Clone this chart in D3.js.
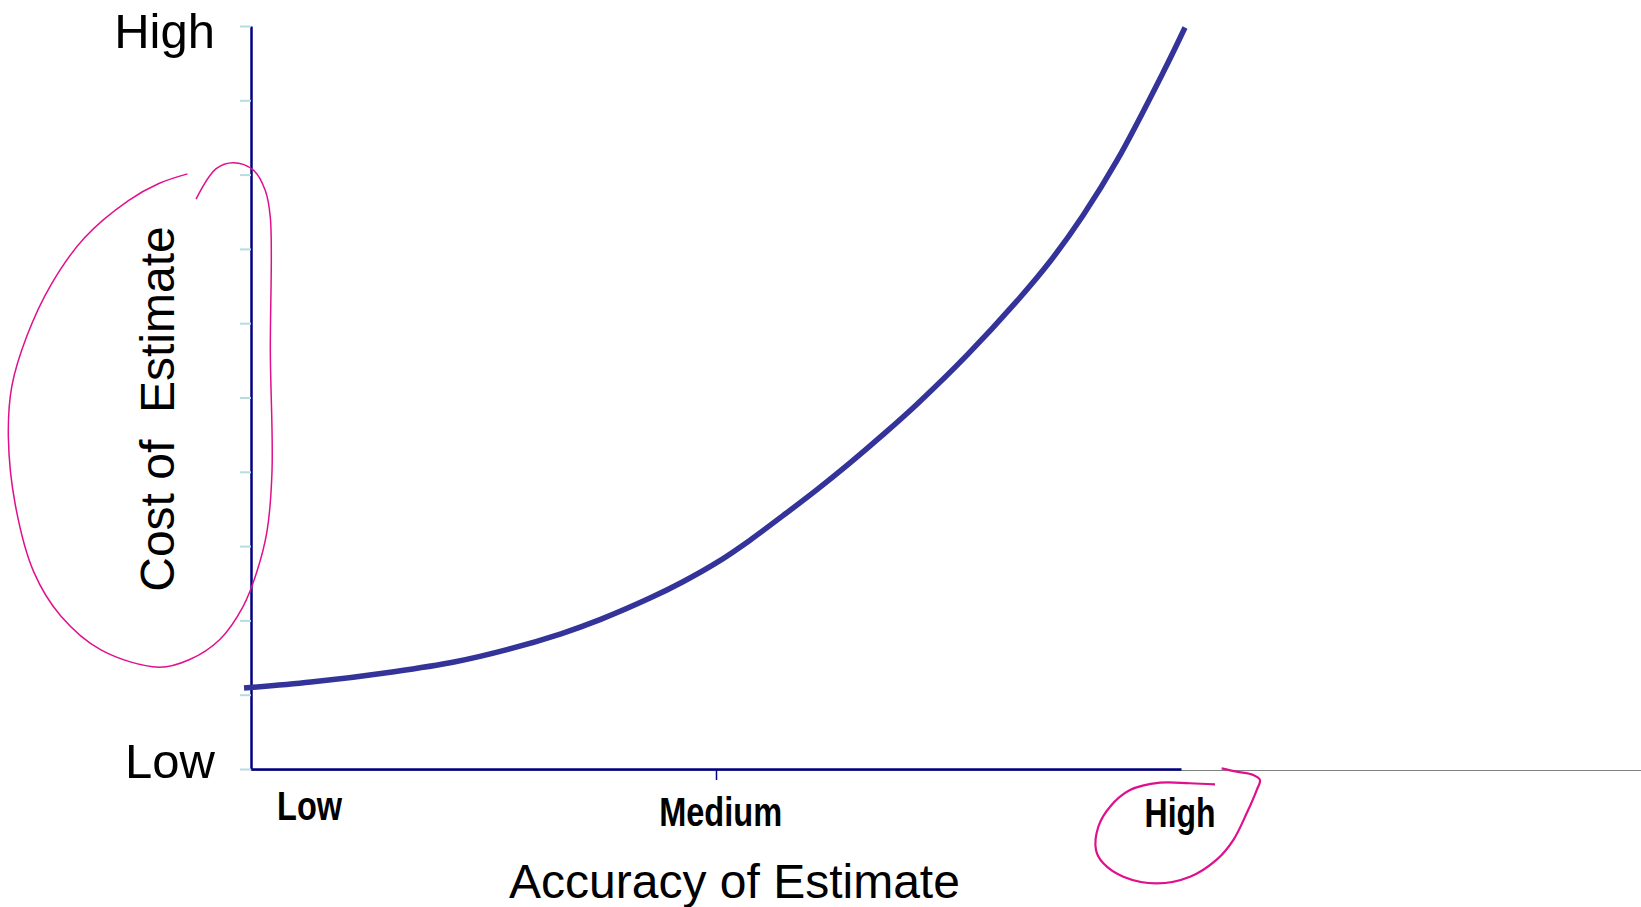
<!DOCTYPE html>
<html>
<head>
<meta charset="utf-8">
<script src="https://cdn.jsdelivr.net/npm/d3@7/dist/d3.min.js"></script>
<style>
  html, body { margin: 0; padding: 0; background: #ffffff; }
  svg { display: block; }
  text { font-family: "Liberation Sans", Arial, sans-serif; fill: #000; }
</style>
</head>
<body>
<svg id="chart" width="1641" height="907"></svg>
<script>
// ---- data ----
// accuracy of estimate (0 = Low, 100 = High)
const accuracy = [-0.75, 6.45, 15.38, 21.83, 27.63, 33.33, 37.53, 42.90, 46.45, 50.11, 53.66, 57.20, 60.86, 64.41, 67.96, 71.61, 76.99, 82.37, 85.91, 89.46, 93.12, 98.06, 100.43];
// cost of estimate (0 = Low, 10 = High)
const cost = [1.09, 1.17, 1.31, 1.44, 1.61, 1.82, 2.01, 2.30, 2.52, 2.78, 3.08, 3.41, 3.76, 4.12, 4.50, 4.91, 5.57, 6.30, 6.83, 7.45, 8.19, 9.37, 9.98];

const xCategories = ["Low", "Medium", "High"];
const xCategoryPos = [6.3, 50.5, 99.9];
const xTickValues = [50];
const yLabels = ["Low", "High"];
const yLabelValues = [0, 10];
const yTickValues = [0, 1, 2, 3, 4, 5, 6, 7, 8, 9, 10];
const xTitle = "Accuracy of Estimate";
const yTitle = "Cost of  Estimate";

// hand-drawn annotation loops (in data units)
const costLoopX = [-6.83, -9.91, -13.18, -17.90, -21.54, -24.09, -25.72, -26.09, -25.35, -23.35, -20.45, -16.09, -9.91, -6.65, -3.38, -0.84, 0.62, 1.71, 2.26, 2.08, 2.08, 1.53, 0.26, -1.92, -3.74, -5.91];
const costLoopY = [8.01, 7.88, 7.65, 7.15, 6.51, 5.83, 5.15, 4.47, 3.56, 2.65, 2.06, 1.60, 1.37, 1.47, 1.74, 2.19, 2.65, 3.19, 4.01, 5.60, 7.42, 7.79, 8.06, 8.16, 8.08, 7.67];
const highLoopX = [103.66, 100.97, 97.74, 94.52, 92.37, 91.11, 90.86, 91.65, 93.80, 97.39, 100.97, 103.84, 105.62, 107.06, 108.14, 108.49, 107.77, 105.99, 104.37];
const highLoopY = [-0.206, -0.192, -0.184, -0.283, -0.507, -0.777, -1.09, -1.27, -1.45, -1.54, -1.45, -1.22, -0.956, -0.596, -0.283, -0.148, -0.081, -0.036, 0.009];

// ---- chart ----
const svg = d3.select("#chart");
const x = d3.scaleLinear().domain([0, 100]).range([251, 1181]);
const y = d3.scaleLinear().domain([0, 10]).range([769, 26]);

// faint grey baseline extending to the right
svg.append("line")
  .attr("x1", x(0)).attr("x2", 1641)
  .attr("y1", y(0) + 1.5).attr("y2", y(0) + 1.5)
  .attr("stroke", "#808080").attr("stroke-width", 1);

// y axis
const yAxis = svg.append("g")
  .attr("transform", `translate(${x(0)},0)`)
  .call(d3.axisLeft(y).tickValues(yTickValues).tickSize(11).tickSizeOuter(0).tickFormat(""));
yAxis.select(".domain").attr("stroke", "#000080").attr("stroke-width", 2.5);
yAxis.selectAll(".tick line").attr("stroke", "#b4dde2").attr("stroke-width", 2);

// x axis
const xAxis = svg.append("g")
  .attr("transform", `translate(0,${y(0)})`)
  .call(d3.axisBottom(x).tickValues(xTickValues).tickSize(11).tickSizeOuter(0).tickFormat(""));
xAxis.select(".domain").attr("stroke", "#000080").attr("stroke-width", 2.5);
xAxis.selectAll(".tick line").attr("stroke", "#000080").attr("stroke-width", 1.5);

// y labels
const yLabelDy = [9, 22];
svg.selectAll("text.ylab").data(yLabels).enter().append("text")
  .attr("class", "ylab")
  .attr("x", x(0) - 36)
  .attr("y", (d, i) => y(yLabelValues[i]) + yLabelDy[i])
  .attr("text-anchor", "end")
  .style("font-size", "49px")
  .text(d => d);

// x category labels
const xLabW = [65, 123, 71];
const xLabDy = [51, 57, 58];
svg.selectAll("text.xlab").data(xCategories).enter().append("text")
  .attr("class", "xlab")
  .attr("x", (d, i) => x(xCategoryPos[i]))
  .attr("y", (d, i) => y(0) + xLabDy[i])
  .attr("text-anchor", "middle")
  .attr("textLength", (d, i) => xLabW[i])
  .attr("lengthAdjust", "spacingAndGlyphs")
  .style("font-family", "'Liberation Sans Narrow', 'Liberation Sans', Arial, sans-serif")
  .style("font-weight", "bold")
  .style("font-size", "40px")
  .text(d => d);

// axis titles
svg.append("text")
  .attr("x", 734.5).attr("y", 898)
  .attr("text-anchor", "middle")
  .style("font-size", "48px")
  .text(xTitle);

svg.append("text")
  .attr("transform", "translate(174,409) rotate(-90)")
  .attr("text-anchor", "middle")
  .style("font-size", "48px")
  .style("white-space", "pre")
  .attr("xml:space", "preserve")
  .text(yTitle);

// main curve
const pts = accuracy.map((a, i) => [a, cost[i]]);
svg.append("path")
  .datum(pts)
  .attr("fill", "none")
  .attr("stroke", "#333399")
  .attr("stroke-width", 5.5)
  .attr("d", d3.line().x(d => x(d[0])).y(d => y(d[1])).curve(d3.curveCatmullRom.alpha(0.5)));

// annotation loops
const loopLine = d3.line().x(d => x(d[0])).y(d => y(d[1])).curve(d3.curveCatmullRom.alpha(0.5));
svg.append("path")
  .datum(costLoopX.map((v, i) => [v, costLoopY[i]]))
  .attr("fill", "none").attr("stroke", "#e0108c").attr("stroke-width", 1.5)
  .attr("d", loopLine);
svg.append("path")
  .datum(highLoopX.map((v, i) => [v, highLoopY[i]]))
  .attr("fill", "none").attr("stroke", "#e0108c").attr("stroke-width", 2.2)
  .attr("d", loopLine);
</script>
</body>
</html>
